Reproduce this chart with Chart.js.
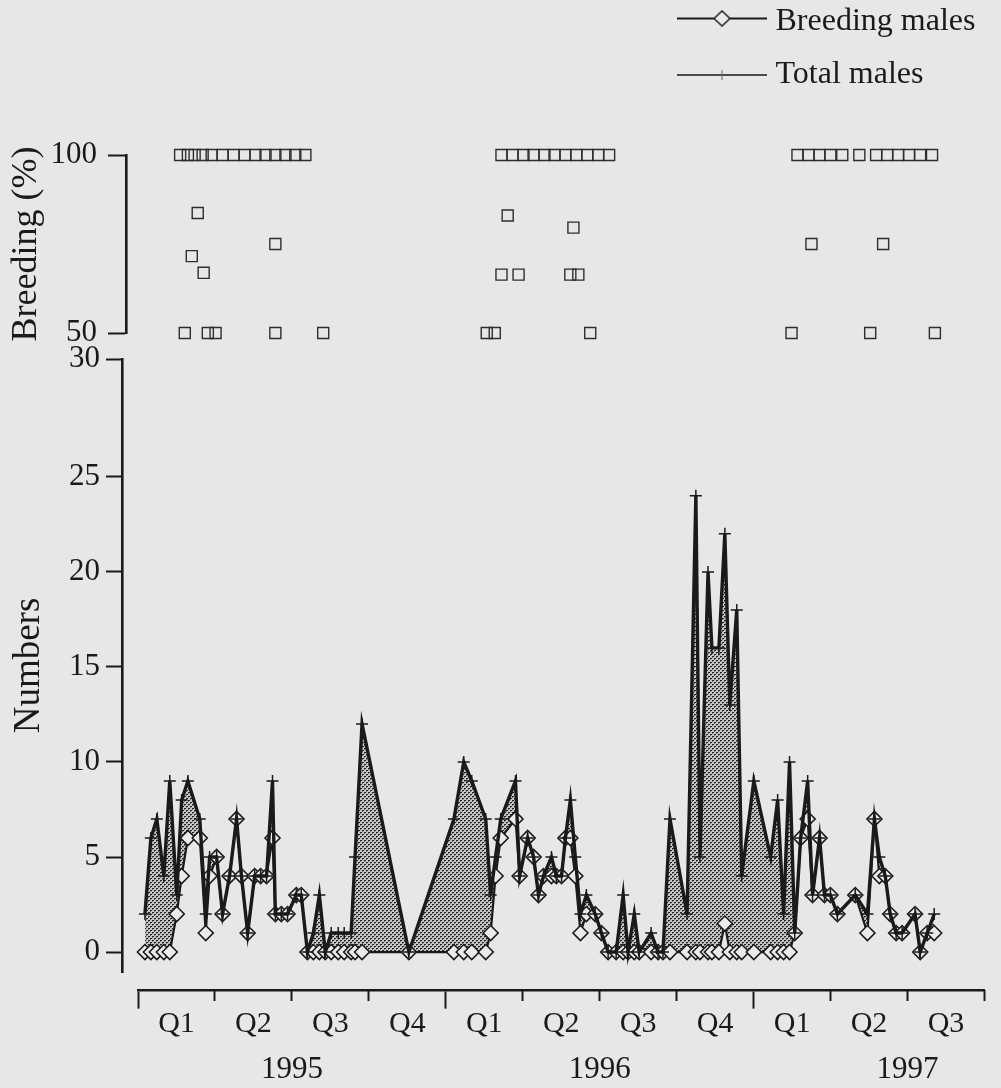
<!DOCTYPE html>
<html>
<head>
<meta charset="utf-8">
<script src="https://cdn.jsdelivr.net/npm/chart.js@4.4.1/dist/chart.umd.min.js"></script>
<style>
html,body{margin:0;padding:0;background:#e7e7e7;width:1001px;height:1088px;overflow:hidden}
canvas{position:absolute;left:0;top:0}
#cLegend{top:-16px}
</style>
</head>
<body>
<canvas id="cTop" width="1001" height="1088"></canvas>
<canvas id="cNum" width="1001" height="1088"></canvas>
<canvas id="cAxis" width="1001" height="1088"></canvas>
<canvas id="cLegend" width="1001" height="1088"></canvas>
<script>
// ---------------- DATA (time in months since 1 Jan 1995) ----------------
const sampleMonths = [0.27,0.50,0.73,1.00,1.23,1.50,1.69,1.93,2.39,2.62,
  2.77,3.04,3.27,3.54,3.81,4.00,4.24,4.51,4.74,4.97,
  5.20,5.31,5.54,5.78,6.12,6.31,6.55,6.78,7.01,7.24,
  7.47,7.74,7.97,8.24,8.39,8.66,
  10.47,
  12.21,12.59,12.90,13.44,
  13.63,13.82,14.02,14.59,14.75,15.06,15.29,15.48,15.67,15.98,16.17,16.37,16.52,16.71,16.90,17.10,17.33,17.67,17.91,
  18.17,18.48,18.75,18.94,19.18,19.37,19.83,20.10,20.29,
  20.56,21.22,21.56,21.72,22.03,22.18,22.45,22.68,22.87,23.14,23.33,23.80,24.45,24.72,24.95,25.18,
  25.38,25.61,25.88,26.07,26.34,26.53,26.76,27.03,27.72,28.19,28.46,28.65,28.88,29.07,29.30,29.53,30.03,30.23,30.50,30.77];

const totalMales = [2,6,7,4,9,3,8,9,7,2,
  5,5,2,4,7,4,1,4,4,4,
  9,2,2,2,3,3,0,1,3,0,
  1,1,1,1,5,12,
  0,
  7,10,9,7,
  3,5,7,9,4,6,5,3,4,5,4,4,6,8,5,2,3,2,1,
  0,0,3,0,2,0,1,0,0,
  7,2,24,5,20,16,16,22,13,18,4,9,5,8,2,10,
  1,6,9,3,6,3,3,2,3,2,7,5,4,2,1,1,2,0,1,2];

const breedingMales = [0,0,0,0,0,2,4,6,6,1,
  4,5,2,4,7,4,1,4,4,4,
  6,2,2,2,3,3,0,0,0,0,
  0,0,0,0,0,0,
  0,
  0,0,0,0,
  1,4,6,7,4,6,5,3,4,4,4,4,6,6,4,1,2,2,1,
  0,0,0,0,0,0,0,0,0,
  0,0,0,0,0,0,0,1.5,0,0,0,0,0,0,0,0,
  1,6,7,3,6,3,3,2,3,1,7,4,4,2,1,1,2,0,1,1];

const pctMonths = [
  1.63,1.93,2.19,2.50,2.85,3.27,3.70,4.12,4.54,4.93,5.31,5.70,6.08,6.47,
  2.08,2.31,2.54,5.31,1.81,2.70,3.00,5.31,7.16,
  14.05,14.48,14.90,15.29,15.71,16.10,16.52,16.94,17.37,17.79,18.21,
  14.29,16.83,14.05,14.71,16.71,17.02,13.48,13.79,17.48,
  25.49,25.92,26.34,26.76,27.22,27.88,28.53,28.96,29.38,29.80,30.23,30.69,
  26.03,28.80,25.26,28.30,30.80];
const breedingPct = [
  100,100,100,100,100,100,100,100,100,100,100,100,100,100,
  71.6,83.7,66.9,75,50,50,50,50,50,
  100,100,100,100,100,100,100,100,100,100,100,
  83,79.6,66.4,66.4,66.4,66.4,50,50,50,
  100,100,100,100,100,100,100,100,100,100,100,100,
  75,75,50,50,50];

const pctTickValues = [50,100];
const pctTickLabels = ['50','100'];
const numberTickValues = [0,5,10,15,20,25,31.2];
const numberTickLabels = ['0','5','10','15','20','25','30'];
const yearBoundaryMonths = [0,12,24];
const quarterBoundaryMonths = [3,6,9,15,18,21,27,30,33];
const quarterCenterMonths = [1.5,4.5,7.5,10.5,13.5,16.5,19.5,22.5,25.5,28.5,31.5];
const quarterLabels = ['Q1','Q2','Q3','Q4','Q1','Q2','Q3','Q4','Q1','Q2','Q3'];
const yearLabelMonths = [6,18,30];
const yearLabels = ['1995','1996','1997'];

// ---------------- LAYOUT / STYLE ----------------
const INK = '#1a1a1a';
const CANVAS_W = 1001, CANVAS_H = 1088;
const X_LEFT_PX = 138, X_RIGHT_PX = 995, X_MIN = 0, X_MAX = 33;
Chart.defaults.font.family = "'Liberation Serif','Times New Roman',serif";
Chart.defaults.color = INK;

function xRange(leftPx){
  const k = (X_MAX - X_MIN) / (X_RIGHT_PX - X_LEFT_PX);
  return {min: X_MIN + (leftPx - X_LEFT_PX) * k, max: X_MAX};
}
function fixedTicks(values){ return axis => { axis.ticks = values.map(v => ({value: v})); }; }
const common = {responsive:false, animation:false, events:[], maintainAspectRatio:false};
const noPlugins = {legend:{display:false}, tooltip:{enabled:false}};

// stipple pattern for the area between the two lines
function stipple(ctx){
  const t = document.createElement('canvas'); t.width = 4; t.height = 4;
  const g = t.getContext('2d');
  g.fillStyle = '#c6c6c6'; g.fillRect(0,0,4,4);
  g.fillStyle = '#6e6e6e'; g.fillRect(0,1,1,1); g.fillRect(2,3,1,1);
  g.fillStyle = '#222222'; g.fillRect(0,0,2,1); g.fillRect(2,2,2,1);
  return ctx.createPattern(t,'repeat');
}

// ---------------- TOP PANEL: Breeding (%) ----------------
const TOP_AREA = {left:126, top:155, bottom:333};
new Chart(document.getElementById('cTop'), {
  type:'scatter',
  data:{datasets:[{label:'Breeding (%)',
    data: pctMonths.map((m,i)=>({x:m, y:breedingPct[i]})),
    pointStyle:'rect', pointRadius:7.8, pointBorderWidth:1.4,
    pointBorderColor:'#2e2e2e', pointBackgroundColor:'rgba(0,0,0,0)', clip:false}]},
  options:{...common,
    layout:{padding:{left:0, right:CANVAS_W-X_RIGHT_PX, top:TOP_AREA.top, bottom:CANVAS_H-TOP_AREA.bottom}},
    plugins:noPlugins,
    scales:{
      x:{type:'linear', display:false, ...xRange(TOP_AREA.left)},
      y:{type:'linear', min:50, max:100, bounds:'data',
        afterBuildTicks: fixedTicks(pctTickValues),
        afterFit: s => { s.width = TOP_AREA.left; },
        border:{display:true, color:INK, width:2.6},
        grid:{drawOnChartArea:false, drawTicks:true, tickLength:18, tickWidth:2, tickColor:INK},
        ticks:{font:{size:31}, color:INK, padding:11, autoSkip:false, callback:(v,i)=>pctTickLabels[i]},
        title:{display:true, text:'Breeding (%)', font:{size:36}, color:INK, padding:{top:5,bottom:0}}
      }
    }
  }
});

// ---------------- BOTTOM PANEL: Numbers ----------------
const NUM_AREA = {left:122, top:359, bottom:972};
const numCtx = document.getElementById('cNum').getContext('2d');
new Chart(numCtx, {
  type:'line',
  data:{datasets:[
    {label:'Total males',
     data: sampleMonths.map((m,i)=>({x:m, y:totalMales[i]})),
     borderColor:INK, borderWidth:3.4, tension:0,
     pointStyle:'cross', pointRadius:6, pointBorderWidth:1.5, pointBorderColor:INK, pointBackgroundColor:INK,
     fill:1, backgroundColor: stipple(numCtx), clip:false},
    {label:'Breeding males',
     data: sampleMonths.map((m,i)=>({x:m, y:breedingMales[i]})),
     borderColor:INK, borderWidth:2.2, tension:0,
     pointStyle:'rectRot', pointRadius:7.5, pointBorderWidth:1.6, pointBorderColor:INK, pointBackgroundColor:'#ebebeb',
     fill:false, clip:false}
  ]},
  options:{...common,
    layout:{padding:{left:0, right:CANVAS_W-X_RIGHT_PX, top:NUM_AREA.top, bottom:CANVAS_H-NUM_AREA.bottom}},
    plugins:{...noPlugins, filler:{drawTime:'beforeDatasetsDraw', propagate:false}},
    scales:{
      x:{type:'linear', display:false, ...xRange(NUM_AREA.left)},
      y:{type:'linear', min:-1.05, max:31.2, bounds:'data',
        afterBuildTicks: fixedTicks(numberTickValues),
        afterFit: s => { s.width = NUM_AREA.left; },
        border:{display:true, color:INK, width:2.6},
        grid:{drawOnChartArea:false, drawTicks:true, tickLength:16, tickWidth:2, tickColor:INK},
        ticks:{font:{size:31}, color:INK, padding:6, autoSkip:false, callback:(v,i)=>numberTickLabels[i]},
        title:{display:true, text:'Numbers', font:{size:37}, color:INK, padding:{top:7,bottom:0}}
      }
    }
  }
});

// ---------------- TIME AXIS ----------------
const AXIS_Y = 990;
function xAxis(values, extra){
  return Object.assign({axis:'x', type:'linear', position:{y:1}, min:X_MIN, max:X_MAX, bounds:'data',
    afterBuildTicks: fixedTicks(values), afterFit: s => { s.height = 1; }}, extra);
}
new Chart(document.getElementById('cAxis'), {
  type:'line',
  data:{datasets:[]},
  options:{...common,
    layout:{padding:{left:X_LEFT_PX, right:CANVAS_W-X_RIGHT_PX, top:AXIS_Y, bottom:0}},
    plugins:noPlugins,
    scales:{
      y:{type:'linear', display:false, min:0, max:1},
      xYearTicks: xAxis(yearBoundaryMonths, {
        border:{display:true, color:INK, width:2.6},
        grid:{display:true, drawOnChartArea:false, drawTicks:true, tickLength:17, tickWidth:2, tickColor:INK},
        ticks:{display:false}}),
      xQuarterTicks: xAxis(quarterBoundaryMonths, {
        border:{display:false},
        grid:{display:true, drawOnChartArea:false, drawTicks:true, tickLength:11, tickWidth:2, tickColor:INK},
        ticks:{display:false}}),
      xQuarterLabels: xAxis(quarterCenterMonths, {
        border:{display:false},
        grid:{display:false, drawTicks:false},
        ticks:{display:true, font:{size:30}, color:INK, padding:16, autoSkip:false, maxRotation:0, minRotation:0,
               callback:(v,i)=>quarterLabels[i]}}),
      xYearLabels: xAxis(yearLabelMonths, {
        border:{display:false},
        grid:{display:false, drawTicks:false},
        ticks:{display:true, font:{size:31}, color:INK, padding:61, autoSkip:false, maxRotation:0, minRotation:0,
               callback:(v,i)=>yearLabels[i]}})
    }
  }
});

// ---------------- LEGEND ----------------
function legendIcon(kind){
  const c = document.createElement('canvas'); c.width = 90; c.height = 24;
  const g = c.getContext('2d');
  const cy = kind === 'diamond' ? 9 : 12;
  g.strokeStyle = INK; g.lineWidth = kind === 'diamond' ? 2 : 1.5;
  g.beginPath(); g.moveTo(0,cy); g.lineTo(90,cy); g.stroke();
  if (kind === 'diamond'){
    g.fillStyle = '#ebebeb'; g.lineWidth = 1.5;
    g.beginPath(); g.moveTo(37,cy); g.lineTo(45,cy-7.5); g.lineTo(53,cy); g.lineTo(45,cy+7.5); g.closePath();
    g.fill(); g.stroke();
  } else {
    g.strokeStyle = '#666'; g.lineWidth = 1;
    g.beginPath(); g.moveTo(45,cy-5); g.lineTo(45,cy+5); g.stroke();
  }
  return c;
}
const legendIcons = [legendIcon('diamond'), legendIcon('plus')];
new Chart(document.getElementById('cLegend'), {
  type:'line',
  data:{datasets:[{label:'Breeding males', data:[]},{label:'Total males', data:[]}]},
  options:{...common,
    layout:{padding:{left:663, top:0}},
    scales:{x:{display:false}, y:{display:false}},
    plugins:{tooltip:{enabled:false},
      legend:{display:true, position:'left', align:'start', maxWidth:400,
        labels:{font:{size:32}, color:INK, usePointStyle:true, pointStyleWidth:75, padding:21.5,
          generateLabels: chart => chart.data.datasets.map((ds,i)=>({
            text: ds.label, pointStyle: legendIcons[i], fontColor: INK,
            fillStyle:'rgba(0,0,0,0)', strokeStyle:'rgba(0,0,0,0)', lineWidth:0, hidden:false, datasetIndex:i}))
        }}}
  }
});
</script>
</body>
</html>
